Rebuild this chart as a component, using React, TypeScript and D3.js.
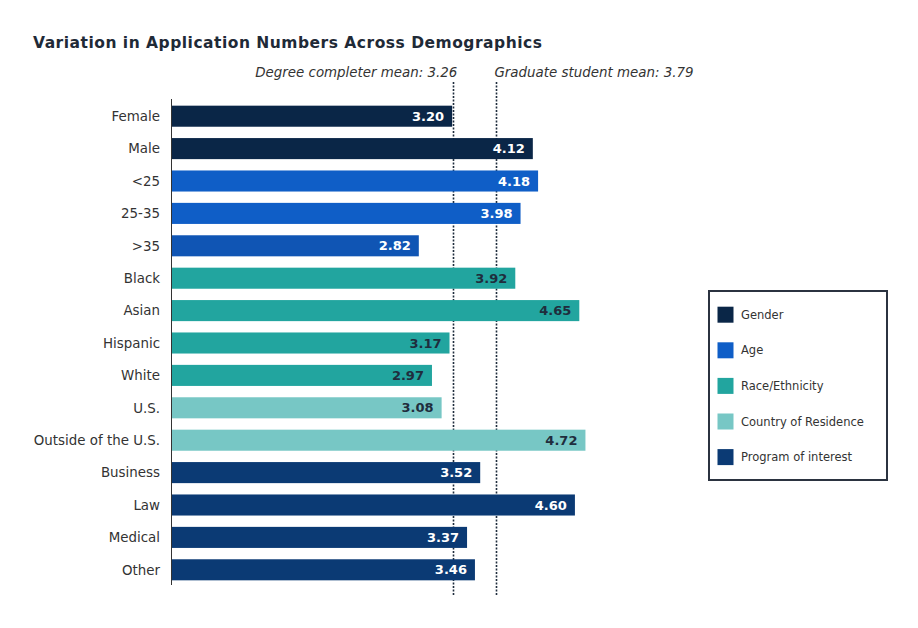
import React, { useEffect } from 'react';
import * as d3 from 'd3';

// data
const categories = [
  'Female', 'Male', '<25', '25-35', '>35', 'Black', 'Asian', 'Hispanic', 'White',
  'U.S.', 'Outside of the U.S.', 'Business', 'Law', 'Medical', 'Other',
];
const values = [3.2, 4.12, 4.18, 3.98, 2.82, 3.92, 4.65, 3.17, 2.97, 3.08, 4.72, 3.52, 4.6, 3.37, 3.46];
const groups = [
  'Gender', 'Gender', 'Age', 'Age', 'Age', 'Race/Ethnicity', 'Race/Ethnicity', 'Race/Ethnicity',
  'Race/Ethnicity', 'Country of Residence', 'Country of Residence', 'Program of interest',
  'Program of interest', 'Program of interest', 'Program of interest',
];
const groupNames = ['Gender', 'Age', 'Race/Ethnicity', 'Country of Residence', 'Program of interest'];
const groupColors = ['#0a2647', '#0f5ec7', '#22a59f', '#77c7c5', '#0b3a74'];
// groups whose value labels are dark instead of white
const darkLabelGroups = ['Race/Ethnicity', 'Country of Residence'];

const meanLabels = ['Degree completer mean: 3.26', 'Graduate student mean: 3.79'];
const meanValues = [3.26, 3.79];
// the reference draws the dotted lines a little left of their stated values
const meanDrawnAt = [3.21, 3.7];

const W = 918;
const H = 628;

const App: React.FC = () => {
  useEffect(() => {
    document.body.style.margin = '0';
  }, []);

  const x = d3.scaleLinear().domain([0, 5]).range([171.5, 610]);
  const y = d3.scaleBand<string>()
    .domain(categories)
    .range([100, 586])
    .paddingInner(0.35)
    .paddingOuter(0.175);
  const color = d3.scaleOrdinal<string, string>().domain(groupNames).range(groupColors);
  const font = '"DejaVu Sans", Verdana, sans-serif';

  // >35 is a touch darker than the other age bars in the reference
  const barColor = (i: number) => (categories[i] === '>35' ? '#1055b4' : color(groups[i]));

  return (
    <svg width={W} height={H} style={{ display: 'block', background: '#fff' }} fontFamily={font}>
      <text x={33} y={48} fontSize={15.5} fontWeight="bold" letterSpacing={0.5} fill="#1f2a37">
        Variation in Application Numbers Across Demographics
      </text>

      {/* mean lines, behind the bars */}
      {meanDrawnAt.map((v, i) => (
        <line
          key={'m' + i}
          x1={Math.round(x(v)) + 0.5}
          x2={Math.round(x(v)) + 0.5}
          y1={82}
          y2={595}
          stroke="#1f2d3d"
          strokeWidth={1.6}
          strokeDasharray="2,1.5"
        />
      ))}
      <text x={x(meanValues[0])} y={77} fontSize={13.4} fontStyle="italic" textAnchor="end" fill="#333">
        {meanLabels[0]}
      </text>
      <text x={x(meanDrawnAt[1]) - 1.5} y={77} fontSize={13.4} fontStyle="italic" fill="#333">
        {meanLabels[1]}
      </text>

      {categories.map((c, i) => {
        const by = y(c)!;
        const bh = y.bandwidth();
        const dark = darkLabelGroups.includes(groups[i]);
        return (
          <g key={c}>
            <rect x={x(0)} y={by} width={x(values[i]) - x(0)} height={bh} fill={barColor(i)} />
            <text
              x={x(values[i]) - 8}
              y={by + bh / 2}
              dy="0.36em"
              textAnchor="end"
              fontSize={13}
              fontWeight="bold"
              fill={dark ? '#1f2d3d' : '#fff'}
            >
              {values[i].toFixed(2)}
            </text>
            <text x={160} y={by + bh / 2} dy="0.36em" textAnchor="end" fontSize={13.4} fill="#333">
              {c}
            </text>
          </g>
        );
      })}

      <line x1={171.5} x2={171.5} y1={99} y2={585} stroke="#333" strokeWidth={1} />

      {/* legend */}
      <rect x={709} y={291} width={178} height={189} fill="#fff" stroke="#2b3340" strokeWidth={2} />
      {groupNames.map((g, i) => {
        const cy = 314.7 + i * 35.6;
        return (
          <g key={g}>
            <rect x={717.5} y={cy - 8} width={16} height={16} fill={color(g)} />
            <text x={741} y={cy} dy="0.36em" fontSize={11.5} fill="#333">
              {g}
            </text>
          </g>
        );
      })}
    </svg>
  );
};

export default App;
